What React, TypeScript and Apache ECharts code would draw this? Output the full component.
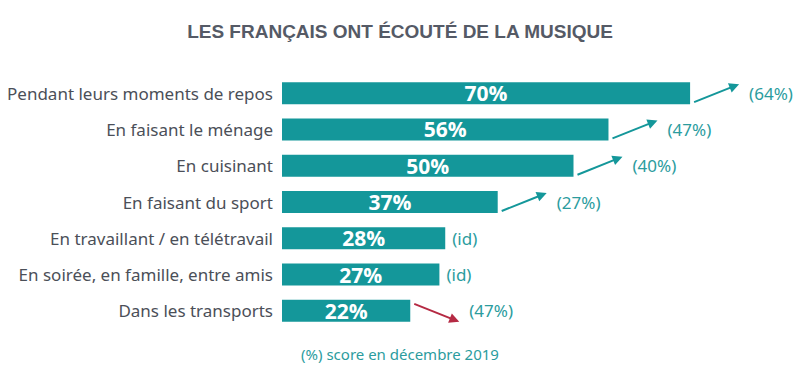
import React, { useEffect, useRef } from "react";
import * as echarts from "echarts";

const categories = [
  "Pendant leurs moments de repos",
  "En faisant le ménage",
  "En cuisinant",
  "En faisant du sport",
  "En travaillant / en télétravail",
  "En soirée, en famille, entre amis",
  "Dans les transports",
];
const scores = [70, 56, 50, 37, 28, 27, 22];
const previousScores = ["(64%)", "(47%)", "(40%)", "(27%)", "(id)", "(id)", "(47%)"];
const trends = ["up", "up", "up", "up", "same", "same", "down"];

const TEAL = "#14979a";
const TEAL_TEXT = "#2b9c9e";
const RED = "#b52a43";

export default function App() {
  const ref = useRef<HTMLDivElement>(null);
  useEffect(() => {
    document.body.style.margin = "0";
    const chart = echarts.init(ref.current!, null, { renderer: "svg" });
    const arrowData = scores.map((v, i) => [v, i, previousScores[i], trends[i]]);
    chart.setOption({
      animation: false,
      backgroundColor: "#ffffff",
      title: {
        text: "LES FRANÇAIS ONT ÉCOUTÉ DE LA MUSIQUE",
        left: "center",
        top: 17,
        textStyle: {
          fontFamily: "Liberation Sans",
          fontWeight: "bold",
          fontSize: 19,
          color: "#555a66",
        },
      },
      grid: { left: 282, top: 75, height: 254, right: 51.6 },
      xAxis: { type: "value", min: 0, max: 80, show: false },
      yAxis: {
        type: "category",
        data: categories,
        inverse: true,
        axisLine: { show: false },
        axisTick: { show: false },
        splitLine: { show: false },
        axisLabel: {
          margin: 9,
          fontSize: 17,
          fontFamily: "Noto Sans",
          color: "#4b4f58",
        },
      },
      series: [
        {
          type: "bar",
          data: scores,
          barWidth: 22,
          itemStyle: { color: TEAL },
          label: {
            show: true,
            position: "inside",
            formatter: "{c}%",
            color: "#ffffff",
            fontFamily: "Open Sans",
            fontWeight: "bold",
            fontSize: 21,
          },
        },
        {
          type: "custom",
          data: arrowData,
          encode: { x: 0, y: 1 },
          renderItem: (params: any, api: any) => {
            const idx = params.dataIndex;
            const v = api.value(0);
            const c = api.coord([v, idx]);
            const x = c[0];
            const y = c[1];
            const trend = trends[idx];
            const label = previousScores[idx];
            const children: any[] = [];
            if (trend === "same") {
              children.push({
                type: "text",
                style: {
                  text: label,
                  x: x + 7,
                  y: y,
                  align: "left",
                  verticalAlign: "middle",
                  fill: TEAL_TEXT,
                  fontSize: 17,
                  fontFamily: "Noto Sans",
                },
              });
            } else {
              const up = trend === "up";
              const color = up ? TEAL : RED;
              const x1 = x + 4;
              const y1 = up ? y + 9 : y - 7;
              const x2 = x + 49;
              const y2 = up ? y - 9 : y + 11;
              const dx = x2 - x1;
              const dy = y2 - y1;
              const len = Math.sqrt(dx * dx + dy * dy);
              const ux = dx / len;
              const uy = dy / len;
              const hl = 10;
              const hw = 5;
              const bx = x2 - ux * hl;
              const by = y2 - uy * hl;
              children.push({
                type: "line",
                shape: { x1, y1, x2: bx + ux * 2, y2: by + uy * 2 },
                style: { stroke: color, lineWidth: 2 },
              });
              children.push({
                type: "polygon",
                shape: {
                  points: [
                    [x2, y2],
                    [bx - uy * hw, by + ux * hw],
                    [bx + uy * hw, by - ux * hw],
                  ],
                },
                style: { fill: color },
              });
              children.push({
                type: "text",
                style: {
                  text: label,
                  x: x + 59,
                  y: y,
                  align: "left",
                  verticalAlign: "middle",
                  fill: TEAL_TEXT,
                  fontSize: 17,
                  fontFamily: "Noto Sans",
                },
              });
            }
            return { type: "group", children };
          },
        },
      ],
      graphic: [
        {
          type: "text",
          left: "center",
          top: 346,
          style: {
            text: "(%) score en décembre 2019",
            fill: TEAL_TEXT,
            fontSize: 15,
            fontFamily: "Noto Sans",
          },
        },
      ],
    });
    return () => chart.dispose();
  }, []);
  return <div ref={ref} style={{ width: 800, height: 378 }} />;
}
